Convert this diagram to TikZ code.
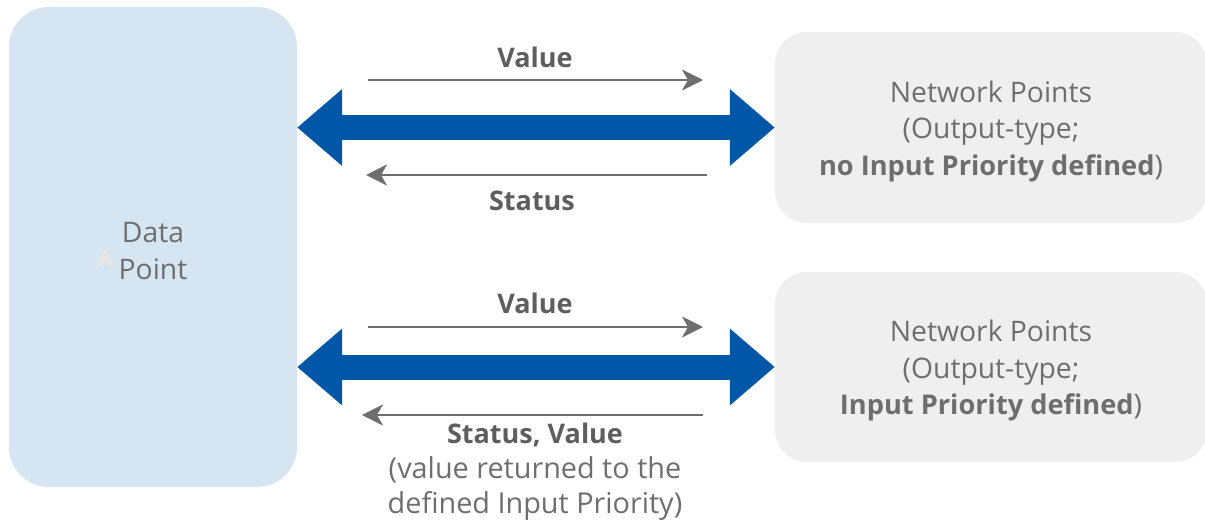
\documentclass[tikz,border=0pt]{standalone}
\usepackage{fontspec}
\setmainfont{Open Sans}
\usetikzlibrary{arrows.meta}
\definecolor{dpblue}{HTML}{D5E5F2}
\definecolor{npgray}{HTML}{EFEFEF}
\definecolor{bigblue}{HTML}{0057A8}
\definecolor{txtgray}{HTML}{6E6E6E}
\definecolor{lblgray}{HTML}{5E5E5E}
\definecolor{arrgray}{HTML}{6E6E6E}
\definecolor{ghost}{HTML}{E6E6E6}
\newcommand{\boxbold}[1]{{\fontsize{27.2}{36.5}\selectfont\bfseries #1}}
\begin{document}
\begin{tikzpicture}[x=1pt,y=-1pt,
  boxnode/.style={inner sep=0pt, align=center, text=txtgray,
    font=\fontsize{28.3}{36.5}\selectfont},
  bigarrow/.style={draw=bigblue, line width=25pt,
    {Triangle[length=45pt,width=74pt]}-{Triangle[length=45pt,width=74pt]}},
  thinarrow/.style={draw=arrgray, line width=2.2pt,
    -{Stealth[length=21pt,width=21pt,inset=6pt]}},
  lbl/.style={anchor=base, inner sep=0pt, text=lblgray,
    font=\fontsize{27}{36.5}\selectfont\bfseries},
  sublbl/.style={anchor=base, inner sep=0pt, text=txtgray,
    font=\fontsize{28.8}{36.5}\selectfont}]
\useasboundingbox (0,0) rectangle (1205,522);

% boxes
\node[boxnode, fill=dpblue, rounded corners=40pt,
      minimum width=288pt, minimum height=480pt] (dp) at (153,247) {};
\node[boxnode] (dpt) at (153,251) {Data\\Point};
\node[boxnode, fill=npgray, rounded corners=32pt,
      minimum width=432pt, minimum height=191pt] (np1) at (991,127.5) {};
\node[boxnode, fill=npgray, rounded corners=32pt,
      minimum width=432pt, minimum height=190pt] (np2) at (991,367) {};
\node[boxnode] (np1t) at (991,131.5)
      {Network Points\\(Output-type;\\\boxbold{no Input Priority defined})};
\node[boxnode] (np2t) at (991,371)
      {Network Points\\(Output-type;\\\boxbold{Input Priority defined})};

% faint marker in the data point box
\fill[ghost] (105,248) -- (115,268) -- (105,263) -- (95,268) -- cycle;

% big double arrows
\draw[bigarrow] (dp.east |- np1.west) -- (np1.west);
\draw[bigarrow] (dp.east |- np2.west) -- (np2.west);

% thin arrows, top pair
\coordinate (v1s) at (368,80);
\coordinate (v1e) at (703,80);
\coordinate (s1s) at (707,175);
\coordinate (s1e) at (366,175);
\draw[thinarrow] (v1s) -- (v1e);
\draw[thinarrow] (s1s) -- (s1e);
\node[lbl] (lv1) at (535,67) {Value};
\node[lbl] (ls1) at (532,210) {Status};

% thin arrows, bottom pair
\coordinate (v2s) at (368,327);
\coordinate (v2e) at (703,327);
\coordinate (s2s) at (703,415);
\coordinate (s2e) at (362,415);
\draw[thinarrow] (v2s) -- (v2e);
\draw[thinarrow] (s2s) -- (s2e);
\node[lbl] (lv2) at (535,313) {Value};
\node[lbl] (ls2) at (535,443) {Status, Value};
\node[sublbl] (ls2a) at (535,478) {(value returned to the};
\node[sublbl] (ls2b) at (535,513) {defined Input Priority)};
\end{tikzpicture}
\end{document}
